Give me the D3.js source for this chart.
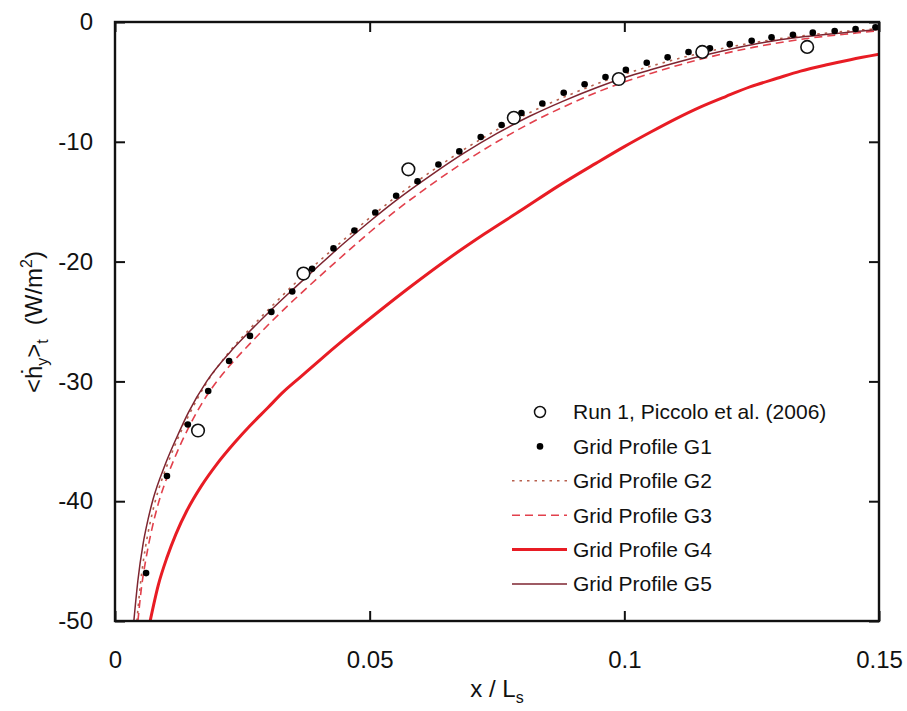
<!DOCTYPE html>
<html lang="en">
<head>
<meta charset="UTF-8">
<title>Heat flux profiles</title>
<script src="https://d3js.org/d3.v7.min.js"></script>
<style>
  body { margin: 0; background: #fff; }
  svg text { font-family: "Liberation Sans", Arial, sans-serif; fill: #111; }
</style>
</head>
<body>
<div id="chart"></div>
<script>
// x / Ls, <h_y>_t (W/m2)
const run1 = [[0.0163,-34.1],[0.037,-21.0],[0.0576,-12.3],[0.0783,-8.0],[0.0989,-4.76],[0.1153,-2.5],[0.1359,-2.08]];

const g1 = [[0.0061,-46.0],[0.0102,-37.9],[0.0143,-33.6],[0.0183,-30.8],[0.0224,-28.3],[0.0265,-26.2],
  [0.0307,-24.2],[0.0348,-22.5],[0.0387,-20.6],[0.0429,-18.9],[0.047,-17.4],[0.0511,-15.9],[0.0552,-14.5],
  [0.0594,-13.3],[0.0635,-11.9],[0.0676,-10.8],[0.0718,-9.6],[0.0759,-8.6],[0.0798,-7.6],[0.0839,-6.8],
  [0.0881,-5.9],[0.0922,-5.2],[0.0963,-4.6],[0.1003,-4.0],[0.1044,-3.4],[0.1085,-2.95],[0.1126,-2.5],
  [0.1168,-2.2],[0.1207,-1.85],[0.125,-1.56],[0.1289,-1.28],[0.1331,-1.06],[0.137,-0.89],[0.1413,-0.75],
  [0.1454,-0.59],[0.1493,-0.44]];

const g2 = [[0.0043,-50],[0.005,-46.9],[0.006,-43.8],[0.007,-41.6],[0.0085,-39.1],[0.0098,-37.5],[0.0122,-34.9],
  [0.0144,-32.9],[0.018,-30.1],[0.0225,-27.5],[0.0265,-25.6],[0.0305,-23.85],[0.035,-21.95],[0.04,-20.0],
  [0.045,-18.15],[0.05,-16.35],[0.055,-14.65],[0.062,-12.5],[0.0685,-10.65],[0.075,-9.0],[0.0815,-7.55],
  [0.088,-6.3],[0.095,-5.1],[0.1,-4.35],[0.1055,-3.65],[0.1155,-2.55],[0.1255,-1.72],[0.1355,-1.12],
  [0.1455,-0.7],[0.15,-0.55]];

const g3 = [[0.0045,-50],[0.0052,-47.2],[0.006,-45.0],[0.007,-42.8],[0.0085,-40.2],[0.0098,-38.5],[0.0122,-35.9],
  [0.0144,-33.9],[0.018,-31.2],[0.0225,-28.7],[0.0265,-26.85],[0.0305,-25.1],[0.035,-23.25],[0.04,-21.3],
  [0.045,-19.4],[0.05,-17.55],[0.055,-15.8],[0.062,-13.6],[0.0685,-11.7],[0.075,-10.0],[0.0815,-8.45],
  [0.088,-7.1],[0.095,-5.8],[0.1,-5.0],[0.1055,-4.25],[0.1155,-3.05],[0.1255,-2.1],[0.1355,-1.4],
  [0.1455,-0.92],[0.15,-0.72]];

const g4 = [[0.0069,-50],[0.0085,-47.0],[0.0102,-44.7],[0.012,-42.7],[0.0141,-40.8],[0.017,-38.7],[0.02,-36.9],
  [0.0235,-35.1],[0.0265,-33.7],[0.03,-32.2],[0.033,-30.9],[0.0365,-29.6],[0.04,-28.3],[0.045,-26.5],
  [0.0508,-24.5],[0.058,-22.1],[0.0653,-19.8],[0.0725,-17.7],[0.0798,-15.7],[0.087,-13.7],[0.0944,-11.8],
  [0.1,-10.4],[0.1051,-9.2],[0.11,-8.1],[0.1149,-7.1],[0.12,-6.2],[0.1248,-5.4],[0.13,-4.7],[0.1346,-4.1],
  [0.14,-3.55],[0.1444,-3.15],[0.15,-2.7]];

const g5 = [[0.0037,-50],[0.0045,-46.6],[0.0055,-43.6],[0.0065,-41.5],[0.0075,-39.8],[0.0098,-37.0],[0.0122,-34.6],
  [0.0144,-32.6],[0.018,-30.0],[0.0225,-27.6],[0.0265,-25.8],[0.0305,-24.1],[0.035,-22.3],[0.04,-20.35],
  [0.045,-18.45],[0.05,-16.65],[0.055,-14.95],[0.062,-12.8],[0.0685,-10.95],[0.075,-9.3],[0.0815,-7.85],
  [0.088,-6.6],[0.095,-5.4],[0.1,-4.65],[0.1055,-3.95],[0.1155,-2.8],[0.1255,-1.85],[0.1355,-1.22],
  [0.1455,-0.8],[0.15,-0.62]];

const xTicks = [0, 0.05, 0.1, 0.15];
const yTicks = [0, -10, -20, -30, -40, -50];
const legendLabels = ["Run 1, Piccolo et al. (2006)", "Grid Profile G1", "Grid Profile G2",
  "Grid Profile G3", "Grid Profile G4", "Grid Profile G5"];

const W = 907, H = 711;
const m = {left: 115, top: 22, right: 28, bottom: 90};

const svg = d3.select("#chart").append("svg").attr("width", W).attr("height", H);
svg.append("rect").attr("width", W).attr("height", H).attr("fill", "#fff");

const x = d3.scaleLinear().domain([0, 0.15]).range([m.left, W - m.right]);
const y = d3.scaleLinear().domain([-50, 0]).range([H - m.bottom, m.top]);

svg.append("defs").append("clipPath").attr("id", "clip")
  .append("rect").attr("x", m.left).attr("y", m.top)
  .attr("width", x(0.15) - m.left).attr("height", y(-50) - m.top);

// curves
const line = d3.line().x(d => x(d[0])).y(d => y(d[1])).curve(d3.curveMonotoneX);
const series = [
  {data: g2, color: "#b8604e", width: 1.6, dash: "2.5,5"},
  {data: g3, color: "#e2404c", width: 1.6, dash: "8,5"},
  {data: g4, color: "#e81c24", width: 3, dash: null},
  {data: g5, color: "#7e2530", width: 1.5, dash: null}
];
const plot = svg.append("g").attr("clip-path", "url(#clip)");
series.forEach(s => {
  plot.append("path").datum(s.data).attr("d", line)
    .attr("fill", "none").attr("stroke", s.color).attr("stroke-width", s.width)
    .attr("stroke-dasharray", s.dash);
});

plot.selectAll(".g1").data(g1).enter().append("circle")
  .attr("cx", d => x(d[0])).attr("cy", d => y(d[1])).attr("r", 3.3).attr("fill", "#000");

plot.selectAll(".run1").data(run1).enter().append("circle")
  .attr("cx", d => x(d[0])).attr("cy", d => y(d[1])).attr("r", 6.3)
  .attr("fill", "#fff").attr("stroke", "#111").attr("stroke-width", 1.6);

// axes, ticks inward on all four sides
const tickLen = 10;
const fmt = d => String(d);
const ax = svg.append("g");
ax.append("g").attr("transform", `translate(0,${y(-50)})`)
  .call(d3.axisBottom(x).tickValues(xTicks).tickSize(-tickLen).tickPadding(30).tickFormat(fmt));
ax.append("g").attr("transform", `translate(0,${y(0)})`)
  .call(d3.axisTop(x).tickValues(xTicks).tickSize(-tickLen).tickFormat(""));
ax.append("g").attr("transform", `translate(${x(0)},0)`)
  .call(d3.axisLeft(y).tickValues(yTicks).tickSize(-tickLen).tickPadding(22).tickFormat(fmt));
ax.append("g").attr("transform", `translate(${x(0.15)},0)`)
  .call(d3.axisRight(y).tickValues(yTicks).tickSize(-tickLen).tickFormat(""));
ax.selectAll(".domain").remove();
ax.selectAll(".tick line").attr("stroke", "#111").attr("stroke-width", 2);
ax.selectAll(".tick text").style("font-size", "24px").attr("fill", "#111");

svg.append("rect").attr("x", m.left).attr("y", m.top)
  .attr("width", x(0.15) - m.left).attr("height", y(-50) - m.top)
  .attr("fill", "none").attr("stroke", "#111").attr("stroke-width", 2.4);

// axis titles
const xl = svg.append("text").attr("x", 497).attr("y", 697).attr("text-anchor", "middle").style("font-size", "24px");
xl.append("tspan").text("x / L");
xl.append("tspan").attr("dy", 6).style("font-size", "16px").text("s");

const yl = svg.append("text").attr("transform", "translate(42,322) rotate(-90)")
  .attr("text-anchor", "middle").style("font-size", "24px");
yl.append("tspan").text("<\u1E23");
yl.append("tspan").attr("dy", 6).style("font-size", "16px").text("y");
yl.append("tspan").attr("dy", -6).text(">");
yl.append("tspan").attr("dy", 6).style("font-size", "16px").text("t");
yl.append("tspan").attr("dy", -6).attr("dx", 14).text("(W/m");
yl.append("tspan").attr("dy", -10).style("font-size", "16px").text("2");
yl.append("tspan").attr("dy", 10).text(")");

// legend
const lg = svg.append("g");
const ly0 = 412, lstep = 34.4;
legendLabels.forEach((t, i) => {
  const yy = ly0 + i * lstep;
  lg.append("text").attr("x", 573).attr("y", yy).attr("dy", "0.35em").style("font-size", "21px").text(t);
  if (i === 0) {
    lg.append("circle").attr("cx", 540).attr("cy", yy).attr("r", 5.5)
      .attr("fill", "#fff").attr("stroke", "#111").attr("stroke-width", 1.5);
  } else if (i === 1) {
    lg.append("circle").attr("cx", 540).attr("cy", yy).attr("r", 3.3).attr("fill", "#000");
  } else {
    const s = series[i - 2];
    lg.append("line").attr("x1", 512).attr("x2", 567).attr("y1", yy).attr("y2", yy)
      .attr("stroke", s.color).attr("stroke-width", s.width).attr("stroke-dasharray", s.dash);
  }
});
</script>
</body>
</html>
